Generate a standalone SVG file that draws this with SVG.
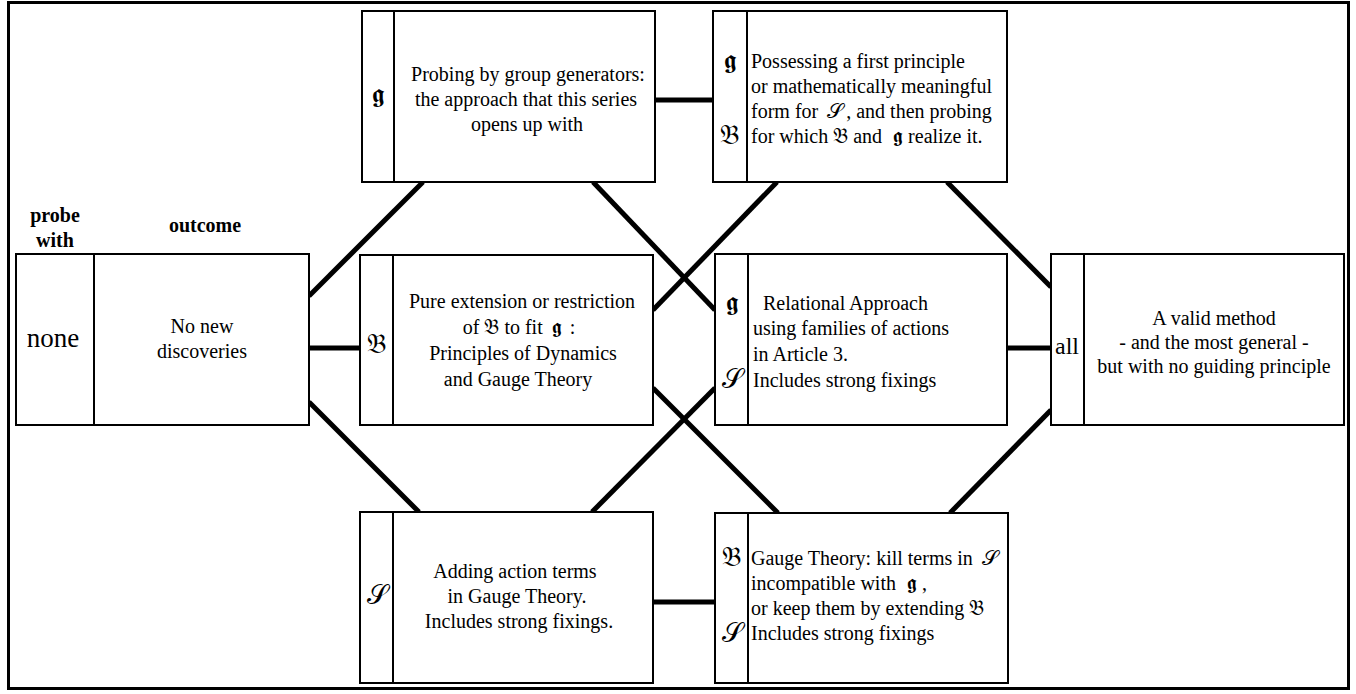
<svg xmlns="http://www.w3.org/2000/svg" width="1356" height="694" viewBox="0 0 1356 694">
<style>
text{font-family:"Liberation Serif",Tinos,"Times New Roman",Times,"DejaVu Serif","Noto Serif",serif;font-size:20px;fill:#000}
.c{text-anchor:middle}
.hd{font-weight:bold}
.m{font-family:"DejaVu Serif","DejaVu Sans","Noto Sans",serif;font-size:27px}
.mi{font-family:"DejaVu Serif","DejaVu Sans","Noto Sans",serif;font-size:21px}
.box{fill:#fff;stroke:#000;stroke-width:2}
.div{stroke:#000;stroke-width:2}
.con line{stroke:#000;stroke-width:5}
</style>
<rect x="0" y="0" width="1356" height="694" fill="#fff"/>
<rect x="8.5" y="2.5" width="1340" height="686" fill="none" stroke="#000" stroke-width="3"/>
<g id="connectors" class="con">
<line x1="309" y1="296" x2="423" y2="182"/>
<line x1="309" y1="348" x2="360" y2="348"/>
<line x1="309" y1="402" x2="419" y2="512"/>
<line x1="655" y1="100" x2="713" y2="100"/>
<line x1="593" y1="182" x2="715" y2="310"/>
<line x1="777" y1="182" x2="653" y2="310"/>
<line x1="653" y1="388" x2="778" y2="513"/>
<line x1="715" y1="388" x2="592" y2="512"/>
<line x1="947" y1="182" x2="1051" y2="287"/>
<line x1="1007" y1="348" x2="1051" y2="348"/>
<line x1="1051" y1="410" x2="950" y2="513"/>
<line x1="653" y1="602" x2="715" y2="602"/>
</g>
<g id="headers">
<text class="c hd" x="55" y="222">probe</text>
<text class="c hd" x="55" y="247">with</text>
<text class="c hd" x="205" y="232">outcome</text>
</g>
<g id="node-none">
<rect class="box" x="16" y="254" width="293" height="171"/>
<line class="div" x1="94" y1="254" x2="94" y2="425"/>
<text class="c" x="53" y="347" style="font-size:27px">none</text>
<text class="c" x="202" y="333">No new</text>
<text class="c" x="202" y="358">discoveries</text>
</g>
<g id="node-g">
<rect class="box" x="362" y="11" width="293" height="171"/>
<line class="div" x1="394" y1="11" x2="394" y2="182"/>
<text class="c m" x="378" y="103">𝖌</text>
<text class="c" x="528" y="81">Probing by group generators:</text>
<text class="c" x="526" y="106">the approach that this series</text>
<text class="c" x="527" y="131">opens up with</text>
</g>
<g id="node-gB">
<rect class="box" x="713" y="11" width="294" height="171"/>
<line class="div" x1="747" y1="11" x2="747" y2="182"/>
<text class="c m" x="730" y="69">𝖌</text>
<text class="c m" x="730" y="144">𝔅</text>
<text x="751" y="68">Possessing a first principle</text>
<text x="751" y="93">or mathematically meaningful</text>
<text x="751" y="118">form for <tspan class="mi" dx="4">𝒮</tspan><tspan dx="3">, and then probing</tspan></text>
<text x="751" y="143">for which <tspan class="mi">𝔅</tspan> and <tspan class="mi" dx="6">𝖌</tspan> realize it.</text>
</g>
<g id="node-B">
<rect class="box" x="360" y="255" width="293" height="170"/>
<line class="div" x1="393" y1="255" x2="393" y2="425"/>
<text class="c m" x="377" y="353">𝔅</text>
<text class="c" x="522" y="308">Pure extension or restriction</text>
<text class="c" x="519" y="334">of <tspan class="mi">𝔅</tspan> to fit <tspan class="mi" dx="4">𝖌</tspan><tspan dx="8">:</tspan></text>
<text class="c" x="523" y="360">Principles of Dynamics</text>
<text class="c" x="518" y="386">and Gauge Theory</text>
</g>
<g id="node-gS">
<rect class="box" x="715" y="254" width="292" height="171"/>
<line class="div" x1="748" y1="254" x2="748" y2="425"/>
<text class="c m" x="732" y="311">𝖌</text>
<text class="c m" x="732" y="388">𝒮</text>
<text x="763" y="310">Relational Approach</text>
<text x="753" y="335">using families of actions</text>
<text x="753" y="361">in Article 3.</text>
<text x="753" y="387">Includes strong fixings</text>
</g>
<g id="node-all">
<rect class="box" x="1051" y="254" width="293" height="171"/>
<line class="div" x1="1084" y1="254" x2="1084" y2="425"/>
<text class="c" x="1067" y="354" style="font-size:24px">all</text>
<text class="c" x="1214" y="325">A valid method</text>
<text class="c" x="1214" y="349">- and the most general -</text>
<text class="c" x="1214" y="373">but with no guiding principle</text>
</g>
<g id="node-S">
<rect class="box" x="360" y="512" width="293" height="171"/>
<line class="div" x1="393" y1="512" x2="393" y2="683"/>
<text class="c m" x="377" y="604">𝒮</text>
<text class="c" x="515" y="578">Adding action terms</text>
<text class="c" x="517" y="603">in Gauge Theory.</text>
<text class="c" x="519" y="628">Includes strong fixings.</text>
</g>
<g id="node-BS">
<rect class="box" x="715" y="513" width="293" height="170"/>
<line class="div" x1="748" y1="513" x2="748" y2="683"/>
<text class="c m" x="732" y="566">𝔅</text>
<text class="c m" x="732" y="642">𝒮</text>
<text x="751" y="565">Gauge Theory: kill terms in <tspan class="mi" dx="4">𝒮</tspan></text>
<text x="751" y="590">incompatible with <tspan class="mi" dx="6">𝖌</tspan> ,</text>
<text x="751" y="615">or keep them by extending <tspan class="mi">𝔅</tspan></text>
<text x="751" y="640">Includes strong fixings</text>
</g>
</svg>
